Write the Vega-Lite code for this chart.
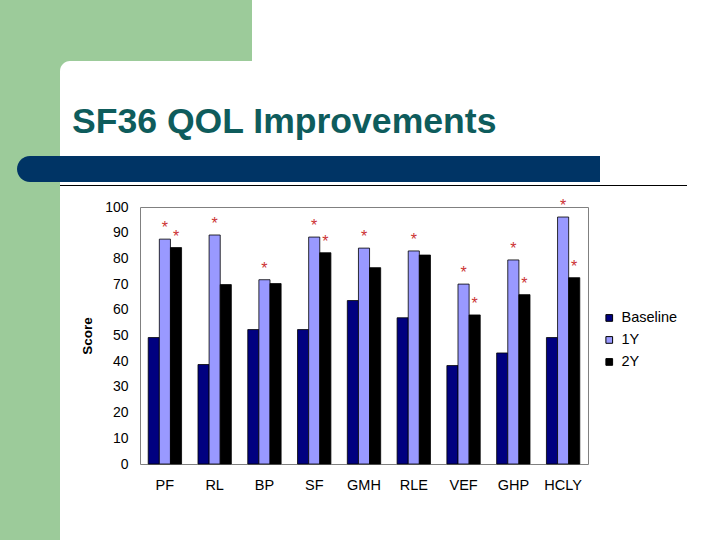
{
  "$schema": "https://vega.github.io/schema/vega-lite/v6.json",
  "padding": 0,
  "background": "white",
  "autosize": {"type": "pad"},
  "spacing": 0,
  "config": {
    "concat": {"spacing": 0},
    "view": {"stroke": null},
    "font": "Liberation Sans"
  },
  "hconcat": [
    {
      "spacing": 0,
      "vconcat": [
        {
          "width": 60, "height": 156,
          "data": {"values": [{}]},
          "mark": {"type": "rect", "fill": "#9ccb9a"}
        },
        {
          "spacing": 0,
          "hconcat": [
            {
              "width": 17, "height": 26,
              "data": {"values": [{}]},
              "mark": {"type": "rect", "fill": "#9ccb9a"}
            },
            {
              "width": 43, "height": 26,
              "data": {"values": [{}]},
              "view": {"fill": "#9ccb9a", "stroke": null},
              "mark": {"type": "rect", "fill": "#003465", "cornerRadiusTopLeft": 13, "cornerRadiusBottomLeft": 13}
            }
          ]
        },
        {
          "width": 60, "height": 358,
          "data": {"values": [{}]},
          "mark": {"type": "rect", "fill": "#9ccb9a"}
        }
      ]
    },
    {
      "spacing": 0,
      "vconcat": [
        {
          "width": 192, "height": 61,
          "data": {"values": [{}]},
          "mark": {"type": "rect", "fill": "#9ccb9a"}
        },
        {
          "width": 20, "height": 95,
          "data": {"values": [{}]},
          "view": {"fill": "#9ccb9a", "stroke": null},
          "layer": [
            {"mark": {"type": "rect", "fill": "white", "cornerRadiusTopLeft": 20}},
            {"mark": {"type": "text", "text": "SF36 QOL Improvements", "align": "left", "baseline": "alphabetic", "dx": 2, "dy": 24.5, "fontSize": 35.6, "fontWeight": "bold", "color": "#0e5c5c", "font": "Liberation Sans"}}
          ]
        },
        {
          "width": 540, "height": 26,
          "data": {"values": [{}]},
          "mark": {"type": "rect", "fill": "#003465"}
        },
        {
          "width": 1, "height": 3,
          "data": {"values": []},
          "mark": {"type": "rect", "fill": "white"}
        },
        {
          "width": 627, "height": 1,
          "data": {"values": [{}]},
          "mark": {"type": "rect", "fill": "black"}
        },
        {
          "width": 1, "height": 11,
          "data": {"values": []},
          "mark": {"type": "rect", "fill": "white"}
        },
        {
          "spacing": 19,
          "hconcat": [
            {
              "width": 1, "height": 1,
              "data": {"values": []},
              "mark": {"type": "rect", "fill": "white"}
            },
            {
              "width": 448, "height": 257,
              "view": {"stroke": "#808080", "strokeWidth": 1},
              "data": {"values": [
                {"cat": "PF", "series": "Baseline", "score": 49.2, "sig": 0},
                {"cat": "PF", "series": "1Y", "score": 87.5, "sig": 1},
                {"cat": "PF", "series": "2Y", "score": 84.2, "sig": 1},
                {"cat": "RL", "series": "Baseline", "score": 38.7, "sig": 0},
                {"cat": "RL", "series": "1Y", "score": 89.1, "sig": 1},
                {"cat": "RL", "series": "2Y", "score": 69.8, "sig": 0},
                {"cat": "BP", "series": "Baseline", "score": 52.3, "sig": 0},
                {"cat": "BP", "series": "1Y", "score": 71.7, "sig": 1},
                {"cat": "BP", "series": "2Y", "score": 70.2, "sig": 0},
                {"cat": "SF", "series": "Baseline", "score": 52.3, "sig": 0},
                {"cat": "SF", "series": "1Y", "score": 88.3, "sig": 1},
                {"cat": "SF", "series": "2Y", "score": 82.2, "sig": 1},
                {"cat": "GMH", "series": "Baseline", "score": 63.6, "sig": 0},
                {"cat": "GMH", "series": "1Y", "score": 84.0, "sig": 1},
                {"cat": "GMH", "series": "2Y", "score": 76.4, "sig": 0},
                {"cat": "RLE", "series": "Baseline", "score": 56.9, "sig": 0},
                {"cat": "RLE", "series": "1Y", "score": 82.9, "sig": 1},
                {"cat": "RLE", "series": "2Y", "score": 81.3, "sig": 0},
                {"cat": "VEF", "series": "Baseline", "score": 38.3, "sig": 0},
                {"cat": "VEF", "series": "1Y", "score": 70.0, "sig": 1},
                {"cat": "VEF", "series": "2Y", "score": 58.0, "sig": 1},
                {"cat": "GHP", "series": "Baseline", "score": 43.2, "sig": 0},
                {"cat": "GHP", "series": "1Y", "score": 79.4, "sig": 1},
                {"cat": "GHP", "series": "2Y", "score": 65.9, "sig": 1},
                {"cat": "HCLY", "series": "Baseline", "score": 49.2, "sig": 0},
                {"cat": "HCLY", "series": "1Y", "score": 96.1, "sig": 1},
                {"cat": "HCLY", "series": "2Y", "score": 72.5, "sig": 1}
              ]},
              "encoding": {
                "x": {
                  "field": "cat", "type": "nominal",
                  "sort": ["PF", "RL", "BP", "SF", "GMH", "RLE", "VEF", "GHP", "HCLY"],
                  "scale": {"paddingInner": 0.33, "paddingOuter": 0.165},
                  "axis": {"title": null, "labelAngle": 0, "ticks": false, "domain": false, "labelFontSize": 14.5, "labelPadding": 14, "labelColor": "black", "labelFont": "Liberation Sans"}
                },
                "xOffset": {"field": "series", "type": "nominal", "sort": ["Baseline", "1Y", "2Y"]},
                "y": {
                  "field": "score", "type": "quantitative",
                  "scale": {"domain": [0, 100]},
                  "axis": {"values": [0, 10, 20, 30, 40, 50, 60, 70, 80, 90, 100], "ticks": false, "domain": false, "grid": false, "labelFontSize": 14, "labelPadding": 12, "labelColor": "black", "labelFont": "Liberation Sans", "title": "Score", "titleFontSize": 13.5, "titleFontWeight": "bold", "titleColor": "black", "titleFont": "Liberation Sans", "titlePadding": 10}
                }
              },
              "layer": [
                {
                  "mark": {"type": "bar", "stroke": "black", "strokeWidth": 0.8},
                  "encoding": {
                    "color": {
                      "field": "series", "type": "nominal",
                      "scale": {"domain": ["Baseline", "1Y", "2Y"], "range": ["#000080", "#9999ff", "#000000"]},
                      "legend": {"orient": "none", "legendX": 602, "legendY": 310.7, "title": null, "symbolType": "square", "symbolSize": 45, "symbolStrokeColor": "black", "symbolStrokeWidth": 1, "labelFontSize": 14.5, "labelOffset": 5, "rowPadding": 7, "padding": 0, "labelColor": "black", "labelFont": "Liberation Sans"}
                    }
                  }
                },
                {
                  "transform": [{"filter": "datum.sig == 1"}],
                  "mark": {"type": "text", "text": "*", "fontSize": 16, "color": "#cc3333", "baseline": "alphabetic", "dy": -6, "font": "Liberation Sans"}
                }
              ]
            }
          ]
        }
      ]
    }
  ]
}
